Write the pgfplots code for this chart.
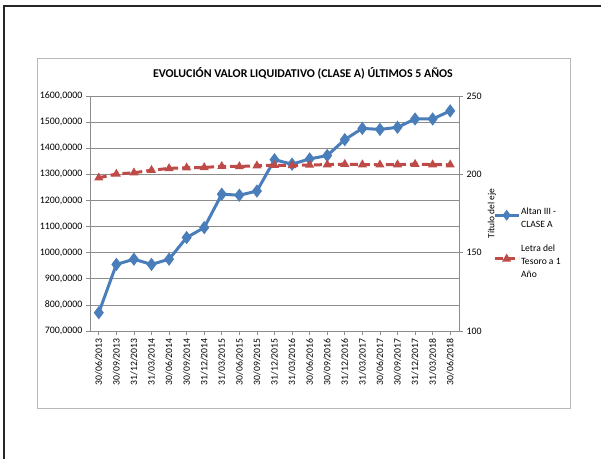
\documentclass[border=0pt]{standalone}
\usepackage{pgfplots}
\pgfplotsset{compat=1.18}
\usepackage{pgfplotstable}
\usepackage{fontspec}
\setmainfont{Carlito}
\definecolor{exblue}{RGB}{74,126,187}
\definecolor{exred}{RGB}{190,75,72}
\definecolor{exgrid}{RGB}{140,140,140}
\definecolor{exframe}{RGB}{185,185,185}

\pgfplotstableread{
idx v
0 770
1 955
2 975
3 955
4 975
5 1058
6 1096
7 1224
8 1220
9 1236
10 1356
11 1339
12 1359
13 1372
14 1433
15 1476
16 1472
17 1480
18 1512
19 1512
20 1543
}\altan

\pgfplotstableread{
idx v
0 197.8
1 200.2
2 201.0
3 202.6
4 203.8
5 204.2
6 204.4
7 205.1
8 205.0
9 205.5
10 205.8
11 205.6
12 206.0
13 206.2
14 206.5
15 206.2
16 206.1
17 206.2
18 206.5
19 206.2
20 206.1
}\letra

\begin{document}
\begin{tikzpicture}
\useasboundingbox (0pt,0pt) rectangle (601pt,459pt);
\fill[white] (0pt,0pt) rectangle (601pt,459pt);
\draw[black!85, line width=1.6pt] (4pt,0pt) -- (4pt,453pt) -- (601pt,453pt);
\draw[exframe, line width=0.9pt] (37pt,51pt) rectangle (570pt,401pt);

\begin{axis}[
  at={(90pt,128pt)}, anchor=south west,
  width=369pt, height=235pt, scale only axis,
  xmin=-0.5, xmax=20.5, ymin=700, ymax=1600,
  xtick={0,...,20},
  xticklabels={30/06/2013,30/09/2013,31/12/2013,31/03/2014,30/06/2014,30/09/2014,31/12/2014,31/03/2015,30/06/2015,30/09/2015,31/12/2015,31/03/2016,30/06/2016,30/09/2016,31/12/2016,31/03/2017,30/06/2017,30/09/2017,31/12/2017,31/03/2018,30/06/2018},
  x tick label style={rotate=90, anchor=east, font=\fontsize{9.7}{10}\selectfont},
  ytick={700,800,...,1600},
  scaled y ticks=false,
  y tick label style={font=\fontsize{9.9}{10}\selectfont,
    /pgf/number format/.cd, fixed, fixed zerofill, precision=4, use comma, 1000 sep={}, assume math mode=true},
  axis x line*=bottom, axis y line*=left,
  axis line style={exgrid, line width=0.6pt},
  ymajorgrids, major grid style={exgrid, line width=0.6pt},
  tick align=outside, major tick length=4pt,
  tick style={exgrid, line width=0.6pt},
  title={\bfseries EVOLUCIÓN VALOR LIQUIDATIVO (CLASE A) ÚLTIMOS 5 AÑOS},
  title style={at={(axis description cs:0.577,1.072)}, anchor=center, font=\fontsize{11.9}{13}\selectfont},
  clip=false,
]
\addplot[exblue, line width=3pt, mark=diamond*, mark size=4.2pt, mark options={solid, fill=exblue}] table[x=idx, y=v] {\altan};
\end{axis}

\begin{axis}[
  at={(90pt,128pt)}, anchor=south west,
  width=369pt, height=235pt, scale only axis,
  xmin=-0.5, xmax=20.5, ymin=100, ymax=250,
  ytick={100,150,200,250},
  axis y line*=right, axis x line=none,
  axis line style={exgrid, line width=0.6pt},
  tick align=outside, major tick length=4pt,
  tick style={exgrid, line width=0.6pt},
  y tick label style={font=\fontsize{9.9}{10}\selectfont, /pgf/number format/assume math mode=true},
  ylabel={Título del eje},
  ylabel style={at={(axis description cs:1.0894,0.5)}, anchor=center, font=\fontsize{9.4}{10}\selectfont},
  legend style={at={(axis description cs:1.092,0.53)}, anchor=north west, draw=none, fill=none,
    inner sep=0pt, row sep=14pt, font=\fontsize{9.6}{13}\selectfont,
    nodes={align=left, inner sep=1pt}},
  legend cell align=left,
  legend image code/.code={\draw[mark repeat=2, mark phase=2, #1] plot coordinates {(0pt,3pt) (12pt,3pt) (24pt,3pt)};},
  clip=false,
]
\addlegendimage{exblue, line width=3pt, mark=diamond*, mark size=3pt, mark options={solid, fill=exblue}}
\addlegendentry{Altan III -\\CLASE A}
\addplot[exred, line width=3pt, dash pattern=on 8pt off 4pt, mark=triangle*, mark size=2.3pt, mark options={solid, fill=exred}] table[x=idx, y=v] {\letra};
\addlegendentry{Letra del\\Tesoro a 1\\Año}
\end{axis}
\end{tikzpicture}
\end{document}
